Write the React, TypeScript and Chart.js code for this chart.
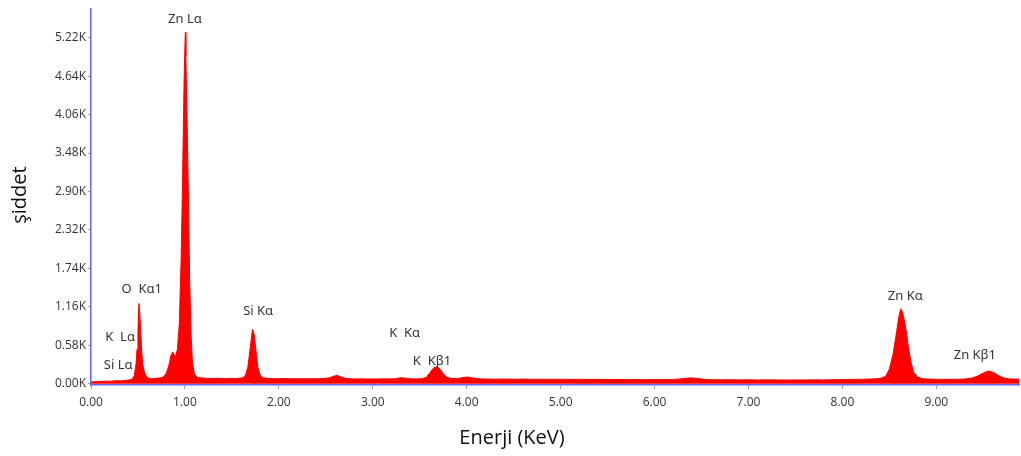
import React, { useEffect, useRef } from "react";
import { Chart, registerables } from "chart.js";

Chart.register(...registerables);

// EDS spectrum: energy (keV) and detector counts
const energyKeV = [
  0.0, 0.04, 0.08, 0.12, 0.16, 0.2, 0.24, 0.28, 0.32, 0.36, 0.4, 0.44,
  0.46, 0.48, 0.49, 0.5, 0.51, 0.52, 0.53, 0.54, 0.55, 0.57, 0.6, 0.64, 0.68, 0.72, 0.76,
  0.8, 0.83, 0.85, 0.87, 0.885, 0.9, 0.92, 0.94, 0.96, 0.975, 0.99, 1.0, 1.005, 1.01, 1.02,
  1.035, 1.05, 1.065, 1.08, 1.1, 1.13, 1.18, 1.24, 1.3, 1.36, 1.42, 1.48, 1.54, 1.6,
  1.64, 1.67, 1.69, 1.71, 1.72, 1.735, 1.755, 1.775, 1.8, 1.83, 1.88,
  1.94, 2.0, 2.06, 2.12, 2.18, 2.24, 2.3, 2.36, 2.42, 2.48, 2.54, 2.59, 2.62, 2.66, 2.7,
  2.76, 2.82, 2.88, 2.94, 3.0, 3.06, 3.12, 3.18, 3.24, 3.3, 3.34, 3.4, 3.46, 3.52,
  3.57, 3.61, 3.65, 3.68, 3.71, 3.75, 3.79, 3.84, 3.9, 3.95, 4.0, 4.05, 4.1, 4.16, 4.22,
  4.3, 4.4, 4.5, 4.6, 4.7, 4.8, 4.9, 5.0, 5.1, 5.2, 5.3, 5.4, 5.5, 5.6, 5.7, 5.8, 5.9,
  6.0, 6.1, 6.2, 6.3, 6.38, 6.45, 6.52, 6.6, 6.7, 6.8, 6.9, 7.0, 7.1, 7.2, 7.3, 7.4,
  7.5, 7.6, 7.7, 7.8, 7.9, 8.0, 8.1, 8.2, 8.3, 8.4, 8.46, 8.5, 8.54, 8.57, 8.6, 8.62,
  8.64, 8.67, 8.7, 8.73, 8.76, 8.8, 8.85, 8.92, 9.0, 9.1, 9.2, 9.3, 9.38, 9.44, 9.5,
  9.55, 9.58, 9.62, 9.67, 9.72, 9.78, 9.84, 9.88,
];

const counts = [
  25, 30, 32, 35, 38, 36, 42, 45, 40, 48, 55, 70,
  120, 300, 520, 800, 1210, 1050, 760, 480, 300, 160, 90, 75, 80, 85, 95,
  150, 280, 420, 480, 440, 410, 520, 900, 1900, 3100, 4500, 5100, 5300, 4950, 4200,
  3000, 1600, 750, 320, 150, 95, 85, 80, 78, 82, 76, 80, 78, 85,
  110, 250, 480, 720, 820, 760, 520, 260, 130, 90, 80,
  78, 75, 78, 74, 76, 73, 75, 74, 76, 78, 88, 115, 125, 105, 82,
  74, 72, 73, 70, 72, 71, 73, 72, 75, 90, 85, 74, 72, 76,
  95, 170, 240, 255, 230, 150, 95, 78, 76, 90, 100, 92, 78, 72, 70,
  68, 70, 67, 69, 66, 68, 65, 67, 64, 66, 63, 65, 62, 64, 61, 63, 60,
  62, 61, 64, 75, 88, 80, 66, 60, 58, 60, 57, 59, 56, 58, 57, 55,
  57, 56, 58, 57, 60, 62, 64, 66, 70, 78, 110, 220, 450, 720, 1000, 1130,
  1080, 880, 580, 320, 170, 100, 75, 70, 66, 65, 66, 70, 85, 115, 160,
  190, 185, 160, 115, 85, 72, 70, 68,
];

const xTickValues = [0, 1, 2, 3, 4, 5, 6, 7, 8, 9];
const yTickValues = [0, 580, 1160, 1740, 2320, 2900, 3480, 4060, 4640, 5220];

// Line identifications placed near their peaks (energy keV, counts)
const peakLabels = ["Zn Lα", "O  Kα1", "K  Lα", "Si Lα", "Si Kα", "K  Kα", "K  Kβ1", "Zn Kα", "Zn Kβ1"];
const peakLabelEnergy = [1.0, 0.54, 0.31, 0.29, 1.78, 3.34, 3.63, 8.67, 9.41];
const peakLabelCounts = [5500, 1430, 700, 280, 1090, 760, 340, 1320, 430];

const xTitle = "Enerji (KeV)";
const yTitle = "şiddet";

const labelFont = '13px "Noto Sans", "DejaVu Sans", sans-serif';
const tickFont = { family: '"Open Sans", "Noto Sans", sans-serif', size: 12 };

const annotationPlugin = {
  id: "spectrumAnnotations",
  afterDraw(chart: any) {
    const { ctx, scales } = chart;
    const xs = scales.x;
    const ys = scales.y;
    ctx.save();
    ctx.fillStyle = "#333333";
    ctx.font = labelFont;
    ctx.textAlign = "center";
    ctx.textBaseline = "middle";
    peakLabels.forEach((txt, i) => {
      ctx.fillText(txt, xs.getPixelForValue(peakLabelEnergy[i]), ys.getPixelForValue(peakLabelCounts[i]));
    });

    // axis titles
    ctx.fillStyle = "#111111";
    ctx.font = '20px "Open Sans", "Noto Sans", sans-serif';
    ctx.fillText(xTitle, 512, 438);
    ctx.translate(20, 195);
    ctx.rotate(-Math.PI / 2);
    ctx.fillText(yTitle, 0, 0);
    ctx.restore();
  },
};

export default function App() {
  const canvasRef = useRef<HTMLCanvasElement | null>(null);

  useEffect(() => {
    const canvas = canvasRef.current;
    if (!canvas) return;
    const data = energyKeV.map((e, i) => ({ x: e, y: counts[i] }));
    const chart = new Chart(canvas, {
      type: "line",
      data: {
        datasets: [
          {
            data,
            borderColor: "#ff0000",
            backgroundColor: "#ff0000",
            borderWidth: 1,
            pointRadius: 0,
            fill: "origin",
            tension: 0,
          },
        ],
      },
      options: {
        animation: false,
        responsive: false,
        layout: { padding: { top: 5, right: 2, left: 0, bottom: 0 } },
        plugins: { legend: { display: false }, tooltip: { enabled: false } },
        scales: {
          x: {
            type: "linear",
            min: 0,
            max: 9.88,
            afterFit: (scale: any) => {
              scale.height = 71;
            },
            afterBuildTicks: (scale: any) => {
              scale.ticks = xTickValues.map((v) => ({ value: v }));
            },
            ticks: {
              color: "#333333",
              font: tickFont,
              padding: 6,
              maxRotation: 0,
              callback: (v: any) => Number(v).toFixed(2),
            },
            grid: { drawOnChartArea: false, tickLength: 4, color: "#9999cc" },
            border: { color: "#6464f0", width: 1.5 },
          },
          y: {
            type: "linear",
            min: -20,
            max: 5650,
            afterFit: (scale: any) => {
              scale.width = 91;
            },
            afterBuildTicks: (scale: any) => {
              scale.ticks = yTickValues.map((v) => ({ value: v }));
            },
            ticks: {
              color: "#333333",
              font: tickFont,
              padding: 2,
              callback: (v: any) => (Number(v) / 1000).toFixed(2) + "K",
            },
            grid: { drawOnChartArea: false, tickLength: 3, color: "#9999cc" },
            border: { color: "#6464f0", width: 1.5 },
          },
        },
      },
      plugins: [annotationPlugin],
    });
    return () => chart.destroy();
  }, []);

  return (
    <canvas
      ref={canvasRef}
      width={1021}
      height={456}
      style={{ position: "fixed", left: 0, top: 0, display: "block", background: "#ffffff" }}
    />
  );
}
